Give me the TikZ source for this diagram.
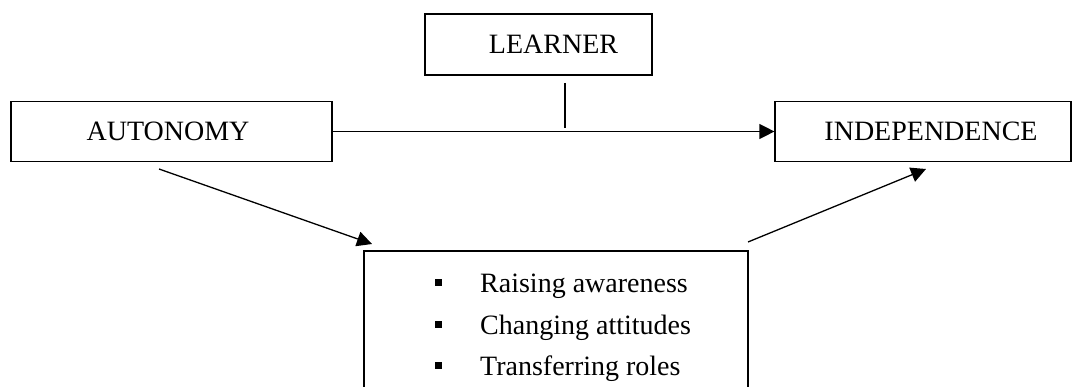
\documentclass[tikz,border=0pt]{standalone}
\usepackage{fontspec}
\setmainfont{Liberation Serif}
\usetikzlibrary{arrows.meta, positioning, calc}

\begin{document}
\begin{tikzpicture}[x=1pt, y=-1pt,
    box/.style={draw, line width=1.2pt, inner sep=0pt,
        font=\fontsize{28}{34}\selectfont},
    link/.style={line width=1.3pt, -{Triangle[length=15pt, width=15pt]}}]
\useasboundingbox (0,0) rectangle (1072,387);
\clip (0,0) rectangle (1072,387);

\node[box, minimum width=227pt, minimum height=61pt] (learner)
    at (538.5,44.5) {\hspace*{30pt}LEARNER};
\node[box, minimum width=321pt, minimum height=60pt] (autonomy)
    at (171.5,131.5) {AUTONOMY\hspace*{7pt}};
\node[box, minimum width=296pt, minimum height=60pt] (independence)
    at (923,131.5) {\hspace*{16pt}INDEPENDENCE};
\node[box, minimum width=384pt, minimum height=169pt] (steps)
    at (556,335.5) {};

\foreach \n/\y/\t in {
    1/293/Raising awareness,
    2/335/Changing attitudes,
    3/376/Transferring roles}
{
    \node[anchor=base west, inner sep=0pt, font=\fontsize{28}{34}\selectfont]
        (item\n) at (480,\y) {\t};
    \node[fill, minimum size=7pt, inner sep=0pt] (dot\n) at (438.5,\y-10) {};
}

\coordinate (tickTop) at (565,83);
\coordinate (tickBot) at (565,128);
\coordinate (downFrom) at (159,169);
\coordinate (downTo) at (372,244);
\coordinate (upFrom) at (748,242);
\coordinate (upTo) at (926,169);

\draw[link] (autonomy.east) -- (independence.west);
\draw[line width=1.3pt] (tickTop) -- (tickBot);
\draw[link] (downFrom) -- (downTo);
\draw[link] (upFrom) -- (upTo);

\end{tikzpicture}
\end{document}
